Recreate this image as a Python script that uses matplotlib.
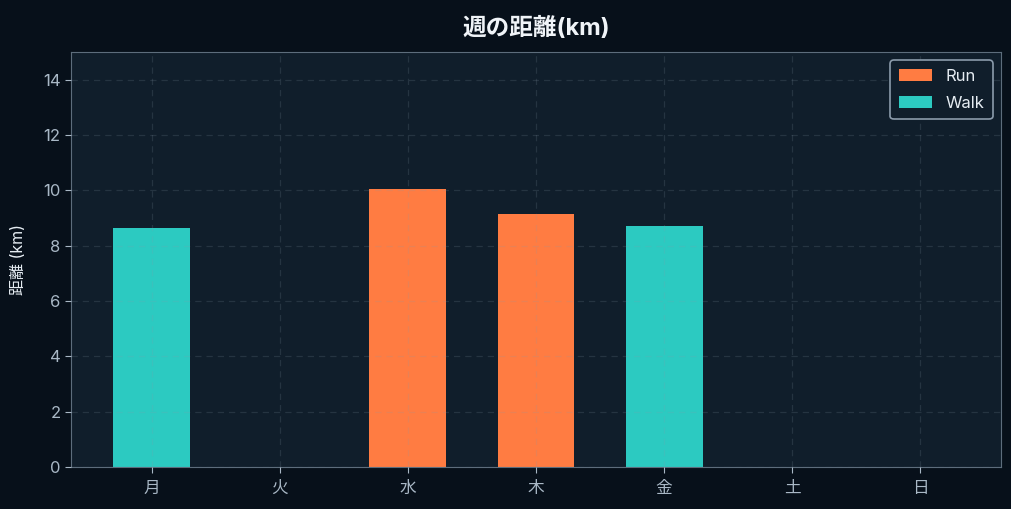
import matplotlib
matplotlib.use("Agg")
import matplotlib.pyplot as plt
import numpy as np

plt.rcParams['font.family'] = ['Inter', 'Noto Sans CJK JP', 'DejaVu Sans']

days = ["月", "火", "水", "木", "金", "土", "日"]
run_km = [0, 0, 10.04, 9.13, 0, 0, 0]
walk_km = [8.65, 0, 0, 0, 8.70, 0, 0]

fig_bg = "#07101a"
ax_bg = "#101e2b"
tick_col = "#a9b8c6"
spine_col = "#5d6d7c"

fig = plt.figure(figsize=(10.12, 5.09), dpi=100, facecolor=fig_bg)
ax = fig.add_axes([71 / 1012, 1 - 467 / 509, 930 / 1012, 415 / 509])
ax.set_facecolor(ax_bg)

x = np.arange(len(days))
ax.bar(x, run_km, width=0.6, color="#ff7c42", label="Run", zorder=2)
ax.bar(x, walk_km, width=0.6, bottom=run_km, color="#2ccac1", label="Walk", zorder=2)

ax.set_ylim(0, 15)
ax.set_yticks(range(0, 15, 2))
ax.set_xticks(x)
ax.set_xticklabels(days)
ax.grid(True, color="#8a9aaa", alpha=0.18, linestyle=(0, (5, 4)), linewidth=0.9, zorder=3)
ax.set_axisbelow(False)

for s in ax.spines.values():
    s.set_color(spine_col)
ax.tick_params(colors=tick_col, labelsize=12, length=4)
ax.tick_params(axis="x", pad=6)

ax.set_ylabel("距離 (km)", color="#e6edf3", fontsize=11.5, labelpad=12)
ax.set_title("週の距離(km)", color="#f0f4f8", fontsize=17, fontweight="bold", pad=12)

leg = ax.legend(loc="upper right", fontsize=12, facecolor=ax_bg, edgecolor="#8b9bab",
                labelcolor="#e6edf3", framealpha=1, handlelength=2.0,
                labelspacing=0.75, borderpad=0.5)
leg.get_frame().set_linewidth(1.2)

fig.savefig("out.png", dpi=100, facecolor=fig_bg)
